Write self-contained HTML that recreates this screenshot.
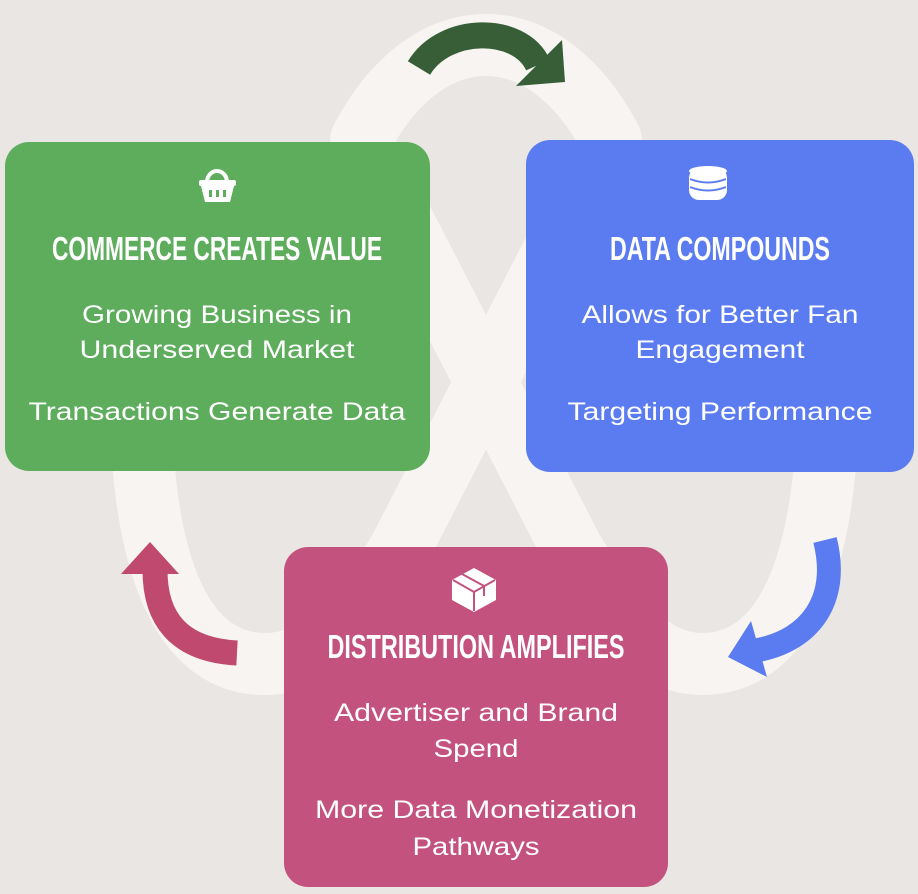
<!DOCTYPE html>
<html><head><style>
html,body{margin:0;padding:0;background:#e9e6e3;}
svg{display:block}
.t{font-family:"Liberation Sans Narrow","Liberation Sans",sans-serif;font-weight:bold;font-size:33px;fill:#fff;text-anchor:middle}
.b{font-family:"Liberation Sans",sans-serif;font-size:25px;fill:#fff;text-anchor:middle}
</style></head><body>
<svg width="918" height="894" viewBox="0 0 918 894" xmlns="http://www.w3.org/2000/svg">
<rect width="918" height="894" fill="#e9e6e3"/>
<path d="M145 300 C128 520,165 664,265 664 C330 664,370 600,401 547 L611 140 C580 80,535 45,486 45 C437 45,392 80,361 140 L571 547 C602 600,642 664,702 664 C802 664,840 520,825 300" fill="none" stroke="#f7f4f1" stroke-width="62" stroke-linejoin="round"/>
<path d="M419 68 C445 25,520 25,538 65" fill="none" stroke="#375e37" stroke-width="26"/>
<polygon points="516,86 562,40 565,82" fill="#375e37"/>
<path d="M155 570 C155 620,180 650,237 653" fill="none" stroke="#c0496f" stroke-width="25"/>
<polygon points="150,542 121,574 179,574" fill="#c0496f"/>
<path d="M825 540 C840 600,810 640,758 650" fill="none" stroke="#5b7cf0" stroke-width="24"/>
<polygon points="728,657 751,621 767,677" fill="#5b7cf0"/>
<rect x="5" y="142" width="425" height="329" rx="24" fill="#5dad5c"/>
<rect x="526" y="140" width="388" height="332" rx="24" fill="#5b7cf0"/>
<rect x="284" y="547" width="384" height="340" rx="24" fill="#c4527e"/>
<path d="M207 182 A10 11 0 0 1 227 182" fill="none" stroke="#fff" stroke-width="4"/>
<rect x="199" y="180" width="37" height="6" rx="2" fill="#fff"/>
<path d="M201 186 L234 186 L230 202 L205 202 Z" fill="#fff"/>
<rect x="209" y="190" width="3" height="7" fill="#5dad5c"/><rect x="216" y="190" width="3" height="7" fill="#5dad5c"/><rect x="223" y="190" width="3" height="7" fill="#5dad5c"/>
<rect x="689" y="168" width="38" height="32" rx="10" fill="#fff"/>
<ellipse cx="708" cy="171" rx="19" ry="5" fill="#fff"/>
<path d="M690 179 Q708 186 726 179 M690 187 Q708 194 726 187" fill="none" stroke="#5b7cf0" stroke-width="2"/>
<polygon points="474,568 496,580 496,600 474,612 452,600 452,580" fill="#fff"/>
<path d="M453 580 L474 592 L495 580 M474 592 L474 611 M462 574 L484 586 L484 596" fill="none" stroke="#c4527e" stroke-width="2"/>
<text class="t" x="217" y="260" textLength="330" lengthAdjust="spacingAndGlyphs">COMMERCE CREATES VALUE</text>
<text class="b" x="217" y="323" textLength="270" lengthAdjust="spacingAndGlyphs">Growing Business in</text>
<text class="b" x="217" y="358" textLength="275" lengthAdjust="spacingAndGlyphs">Underserved Market</text>
<text class="b" x="217" y="420" textLength="377" lengthAdjust="spacingAndGlyphs">Transactions Generate Data</text>
<text class="t" x="720" y="260" textLength="220" lengthAdjust="spacingAndGlyphs">DATA COMPOUNDS</text>
<text class="b" x="720" y="323" textLength="277" lengthAdjust="spacingAndGlyphs">Allows for Better Fan</text>
<text class="b" x="720" y="358" textLength="169" lengthAdjust="spacingAndGlyphs">Engagement</text>
<text class="b" x="720" y="420" textLength="305" lengthAdjust="spacingAndGlyphs">Targeting Performance</text>
<text class="t" x="476" y="658" textLength="297" lengthAdjust="spacingAndGlyphs">DISTRIBUTION AMPLIFIES</text>
<text class="b" x="476" y="721" textLength="284" lengthAdjust="spacingAndGlyphs">Advertiser and Brand</text>
<text class="b" x="476" y="757" textLength="85" lengthAdjust="spacingAndGlyphs">Spend</text>
<text class="b" x="476" y="818" textLength="322" lengthAdjust="spacingAndGlyphs">More Data Monetization</text>
<text class="b" x="476" y="855" textLength="127" lengthAdjust="spacingAndGlyphs">Pathways</text>
</svg>
</body></html>
